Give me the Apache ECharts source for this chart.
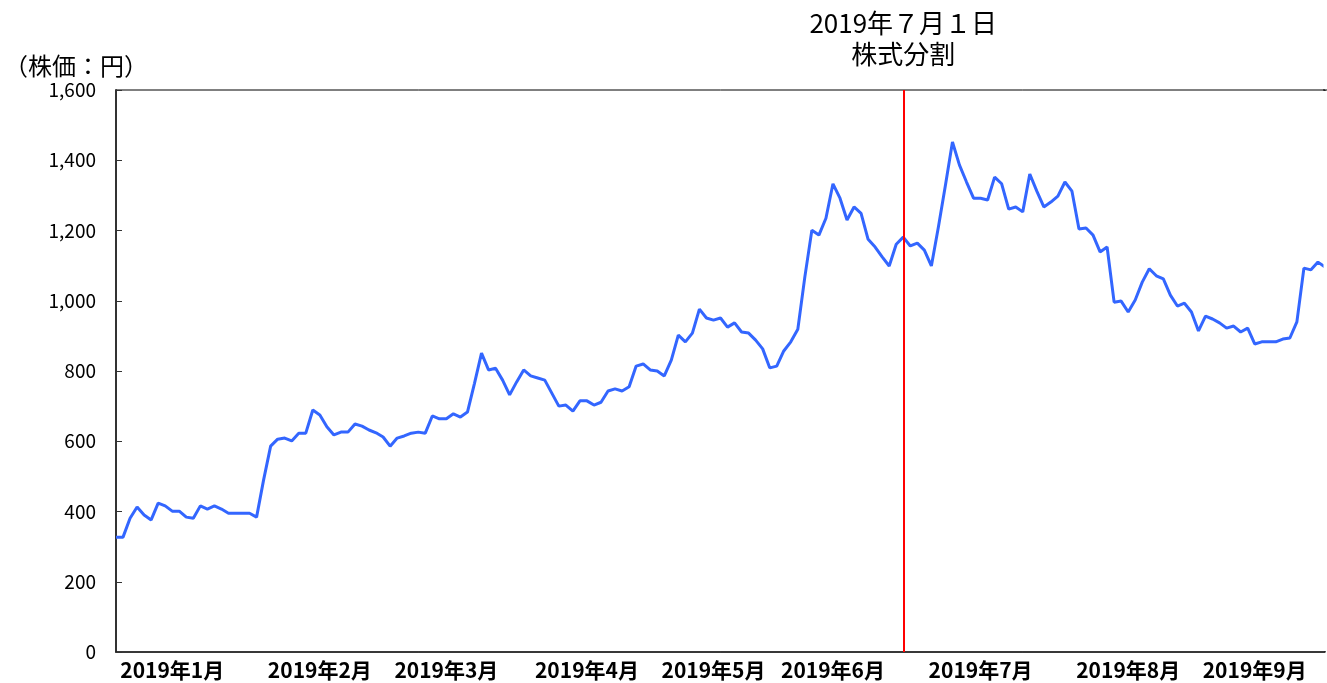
<!DOCTYPE html>
<html>
<head>
<meta charset="utf-8">
<script src="https://cdn.jsdelivr.net/npm/echarts@6/dist/echarts.min.js"></script>
<style>
  html, body { margin: 0; padding: 0; background: #fff; }
  #main { width: 1327px; height: 683px; }
</style>
</head>
<body>
<div id="main"></div>
<script>
// daily closing price (yen), one value per trading day
var prices = [
  327, 327, 381, 413, 390, 376, 424, 416, 401, 401,
  384, 381, 416, 407, 416, 407, 395, 395, 395, 395,
  384, 490, 586, 606, 609, 601, 623, 623, 689, 675,
  641, 618, 626, 626, 649, 643, 632, 624, 612, 586,
  609, 615, 623, 626, 623, 672, 664, 664, 678, 669,
  683, 765, 851, 803, 808, 774, 732, 769, 803, 786,
  780, 774, 737, 700, 703, 686, 715, 715, 703, 711,
  743, 749, 743, 755, 814, 820, 803, 800, 786, 831,
  902, 883, 908, 976, 951, 945, 951, 925, 937, 911,
  908, 888, 863, 809, 814, 857, 883, 919, 1068, 1201,
  1187, 1235, 1333, 1292, 1230, 1267, 1249, 1175, 1153, 1125,
  1099, 1161, 1181, 1156, 1164, 1144, 1099, 1210, 1329, 1452,
  1386, 1338, 1292, 1292, 1287, 1352, 1333, 1261, 1267, 1253,
  1361, 1312, 1267, 1281, 1298, 1338, 1312, 1204, 1207, 1187,
  1139, 1153, 996, 999, 968, 1002, 1053, 1091, 1071, 1062,
  1016, 985, 993, 968, 914, 956, 948, 937, 922, 928,
  911, 922, 877, 883, 883, 883, 891, 894, 940, 1093,
  1088, 1110, 1096
];

// month labels and the trading day each one sits under
var monthLabels = ['2019年1月', '2019年2月', '2019年3月', '2019年4月', '2019年5月',
                   '2019年6月', '2019年7月', '2019年8月', '2019年9月'];
var monthIdx = [8, 29, 47, 67, 85, 102, 123, 144, 162];

// stock split day (2019-07-01)
var splitIdx = 112;
var splitText = '2019年７月１日\n株式分割';

var days = prices.map(function (v, i) { return i; });

var myChart = echarts.init(document.getElementById('main'));

var option = {
  animation: false,
  textStyle: { fontFamily: '"Noto Sans CJK JP", sans-serif' },
  grid: {
    left: 116, right: 2, top: 90, bottom: 31,
    show: true, borderColor: '#000', borderWidth: 1
  },
  graphic: [{
    type: 'text',
    left: 4, top: 54,
    style: {
      text: '（株価：円）',
      fill: '#000',
      font: '24px "Noto Sans CJK JP", sans-serif'
    }
  }, {
    // hide the right border of the frame, keep the top line
    type: 'rect',
    right: 0, top: 91,
    shape: { width: 3.5, height: 560 },
    style: { fill: '#fff' },
    z: 100
  }, {
    type: 'rect',
    right: 0, top: 89.5,
    shape: { width: 4, height: 1 },
    style: { fill: '#000' },
    z: 100
  }],
  xAxis: {
    type: 'category',
    data: days,
    boundaryGap: false,
    axisLine: { lineStyle: { color: '#222', width: 1.5 } },
    axisTick: { show: false },
    axisLabel: {
      interval: function (i) { return monthIdx.indexOf(i) >= 0; },
      formatter: function (v) {
        var k = monthIdx.indexOf(+v);
        return k >= 0 ? monthLabels[k] : '';
      },
      margin: 8,
      color: '#000',
      fontSize: 21,
      fontWeight: 'bold'
    },
    splitLine: { show: false }
  },
  yAxis: {
    type: 'value',
    min: 0,
    max: 1600,
    interval: 200,
    axisLine: { show: true, lineStyle: { color: '#333', width: 2 } },
    axisTick: { show: true, inside: true, length: 6, lineStyle: { color: '#333' } },
    axisLabel: {
      margin: 20,
      color: '#000',
      fontSize: 19,
      formatter: function (v) { return v.toLocaleString('en-US'); }
    },
    splitLine: { show: false }
  },
  series: [{
    type: 'line',
    data: prices,
    symbol: 'none',
    lineStyle: { color: '#3366ff', width: 3 },
    markLine: {
      silent: true,
      symbol: ['none', 'none'],
      lineStyle: { color: '#ff0000', width: 2, type: 'solid' },
      label: {
        show: true,
        position: 'end',
        formatter: splitText,
        color: '#000',
        fontSize: 26,
        lineHeight: 31,
        distance: 20
      },
      data: [{ xAxis: splitIdx }]
    }
  }]
};
myChart.setOption(option);
</script>
</body>
</html>
